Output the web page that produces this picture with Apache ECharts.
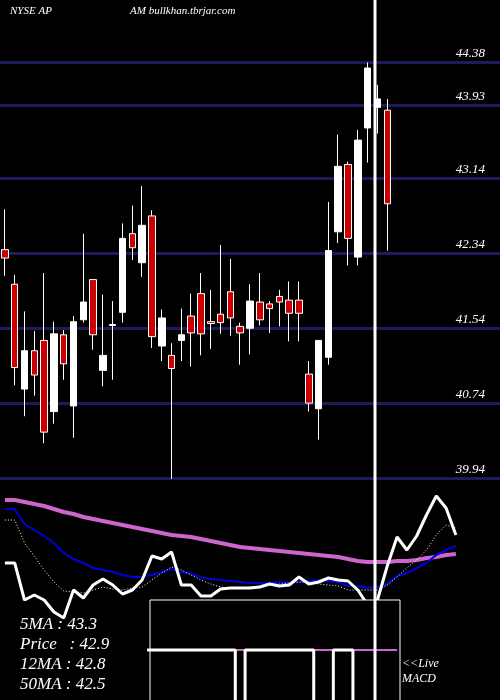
<!DOCTYPE html>
<html><head><meta charset="utf-8">
<script src="https://cdn.jsdelivr.net/npm/echarts@6/dist/echarts.min.js"></script>
<style>html,body{margin:0;background:#000}#c{width:500px;height:700px}</style>
</head><body><div id="c"></div>
<script>
// candles: [open, close, low, high]
const candles = [
[42.38,42.29,42.10,42.81],[42.01,41.12,40.93,42.11],[40.89,41.30,40.60,41.72],[41.30,41.04,40.82,41.51],
[41.41,40.43,40.31,42.13],[40.65,41.48,40.52,41.61],[41.47,41.16,40.99,41.52],[40.71,41.61,40.37,41.67],
[41.63,41.82,41.60,42.55],[42.06,41.47,41.31,42.06],[41.09,41.25,40.92,41.90],[41.57,41.58,40.99,41.83],
[41.71,42.50,41.60,42.66],[42.55,42.40,42.27,42.85],[42.24,42.64,42.09,43.06],[42.74,41.45,41.33,42.80],
[41.35,41.65,41.19,41.74],[41.25,41.11,39.93,41.38],[41.41,41.47,41.19,41.75],[41.67,41.49,41.13,41.91],
[41.91,41.48,41.25,42.13],[41.61,41.59,41.32,41.95],[41.69,41.60,41.48,42.43],[41.93,41.65,41.46,42.28],
[41.56,41.49,41.15,41.60],[41.54,41.83,41.26,42.01],[41.82,41.63,41.57,42.13],[41.80,41.75,41.49,41.83],
[41.88,41.82,41.56,41.95],[41.84,41.70,41.40,42.04],[41.84,41.70,41.40,42.04],[41.05,40.74,40.65,41.19],
[40.68,41.41,40.35,41.41],[41.23,42.37,41.15,42.89],[42.57,43.27,42.45,43.61],[43.29,42.50,42.21,43.32],
[42.30,43.55,42.21,43.66],[43.68,44.32,43.31,44.38],[43.90,43.99,43.62,44.14],[43.87,42.87,42.37,43.99]
];
const tickValues = [44.38, 43.925, 43.14, 42.34, 41.54, 40.74, 39.94];
const tickLabels = ['44.38','43.93','43.14','42.34','41.54','40.74','39.94'];
// lower indicator panel (screen-depth units, inverted axis)
const ma50Line = [500,500,502,504,506,509,512,514,517,519,521,523,525,527,529,531,533,535,536,537,539,541,543,545,547,548,549,550,551,552,553,554,555,556,557,559,561,562,562,562,561,561,560,558,557,555,554];
const ma12Line = [509,509,524,530,536,543,553,559,563,568,570,572,575,577,577,575,572,569,572,574,577,579,580,581,582,583,583,583,582,583,582,581,580,581,582,586,586,588,587,584,576,573,568,563,555,550,546];
const ma5Line = [520,520,543,556,570,582,591,592,593,590,587,589,590,588,587,580,573,567,570,575,580,584,587,588,588,587,586,585,584,583,582,582,584,585,586,590,590,590,590,585,577,568,560,550,535,525,528];
const macdLine = [563,563,600,595,600,612,618,590,598,585,579,585,594,590,580,556,559,552,585,585,596,596,589,588,588,588,587,584,586,585,577,584,582,578,580,581,590,605,600,566,537,550,536,515,496,508,535];
const signalOn = [null,null,null,null,null,null,null,null,null,null,null,null,null,null,null,
 650,650,650,650,650,650,650,650,650,720,650,650,650,650,650,650,650,720,720,650,650,720,720,720,720,720];
const midLevel = [null,null,null,null,null,null,null,null,null,null,null,null,null,null,null,
 650,650,650,650,650,650,650,650,650,650,650,650,650,650,650,650,650,650,650,650,650,650,650,650,650,650];
const infoLines = ['5MA : 43.3','Price   : 42.9','12MA : 42.8','50MA : 42.5'];

const N = 51;
const cats = Array.from({length:N},(_,i)=>String(i));
const serif = 'Liberation Serif';
const chart = echarts.init(document.getElementById('c'));
const ax = (g)=>({type:'category',gridIndex:g,data:cats,boundaryGap:true,axisLine:{show:false},axisTick:{show:false},axisLabel:{show:false}});
chart.setOption({
  backgroundColor:'#000',
  animation:false,
  grid:[{left:-2,width:504,top:0,height:478},{left:-2,width:504,top:490,height:210}],
  xAxis:[ax(0),ax(1)],
  yAxis:[
    {gridIndex:0,min:39.94,max:45.047,show:false,splitLine:{show:false}},
    {gridIndex:1,min:490,max:700,inverse:true,show:false,splitLine:{show:false}}
  ],
  series:[
    {type:'candlestick',xAxisIndex:0,yAxisIndex:0,data:candles,barWidth:7,
     itemStyle:{color:'#ffffff',color0:'#cc0000',borderColor:'#ffffff',borderColor0:'#ffffff',borderWidth:1},
     markLine:{silent:true,symbol:'none',z:1,
       lineStyle:{color:'#1c1c5c',width:3,type:'solid'},
       label:{position:'insideEndTop',color:'#fff',fontFamily:serif,fontStyle:'italic',fontSize:13,distance:[15,2],
              formatter:p=>tickLabels[p.dataIndex]},
       data:tickValues.map(v=>({yAxis:v}))}},
    {type:'line',xAxisIndex:1,yAxisIndex:1,data:ma50Line,symbol:'none',lineStyle:{color:'#cc66cc',width:4}},
    {type:'line',xAxisIndex:1,yAxisIndex:1,data:ma12Line,symbol:'none',lineStyle:{color:'#0000dd',width:2}},
    {type:'line',xAxisIndex:1,yAxisIndex:1,data:ma5Line,symbol:'none',lineStyle:{color:'#fff',width:1,type:[1,2]}},
    {type:'line',xAxisIndex:1,yAxisIndex:1,data:macdLine,symbol:'none',lineStyle:{color:'#fff',width:3},z:3},
    {type:'line',xAxisIndex:1,yAxisIndex:1,data:midLevel,symbol:'none',lineStyle:{color:'#cc66cc',width:2},z:6},
    {type:'line',xAxisIndex:1,yAxisIndex:1,data:signalOn,step:'middle',symbol:'none',lineStyle:{color:'#fff',width:3},z:7}
  ],
  graphic:[
    {type:'rect',shape:{x:150,y:600,width:250,height:110},style:{fill:'#000',stroke:'#fff',lineWidth:1},z:5},
    {type:'line',shape:{x1:375,y1:0,x2:375,y2:700},style:{stroke:'#fff',lineWidth:3},z:100},
    {type:'text',left:10,top:6,style:{text:'NYSE AP',fill:'#fff',font:'italic 11px "Liberation Serif"'}},
    {type:'text',left:130,top:6,style:{text:'AM bullkhan.tbrjar.com',fill:'#fff',font:'italic 11px "Liberation Serif"'}},
    ...infoLines.map((t,i)=>({type:'text',left:20,top:616+i*20,z:10,style:{text:t,fill:'#fff',font:'italic 17px "Liberation Serif"'}})),
    {type:'text',left:402,top:658,z:10,style:{text:'<<Live',fill:'#fff',font:'italic 12px "Liberation Serif"'}},
    {type:'text',left:402,top:673,z:10,style:{text:'MACD',fill:'#fff',font:'italic 12px "Liberation Serif"'}}
  ]
});
</script></body></html>
